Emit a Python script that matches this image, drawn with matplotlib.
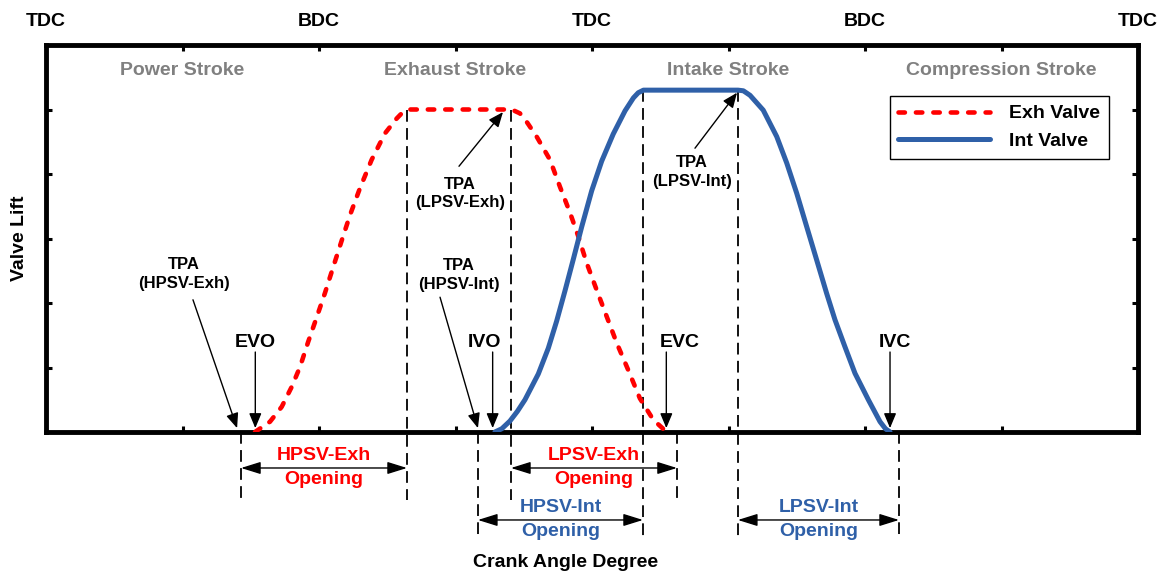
import matplotlib
matplotlib.use("Agg")
import matplotlib.pyplot as plt

# ---- valve lift profiles (crank angle in degrees, lift in arbitrary units) ----
exh_deg = [137.8, 147.7, 155.4, 162.0, 167.5, 172.9, 178.5, 184.0, 189.4, 195.0,
           200.4, 207.0, 214.7, 223.5, 231.2, 234.5, 238.9, 307.0, 312.5, 316.9,
           323.5, 332.3, 338.9, 345.5, 351.0, 356.5, 363.1, 369.7, 376.3, 383.9,
           391.6, 400.4, 409.2]
exh_lift = [0.0, 0.16, 0.39, 0.70, 1.01, 1.40, 1.78, 2.16, 2.56, 2.97,
            3.36, 3.78, 4.22, 4.63, 4.86, 4.94, 5.0, 5.0, 4.94, 4.81,
            4.58, 4.22, 3.80, 3.40, 3.03, 2.62, 2.20, 1.79, 1.38, 0.96,
            0.52, 0.19, 0.0]

int_deg = [296.0, 300.5, 305.9, 310.8, 315.8, 324.6, 331.2, 336.7, 342.2, 347.7,
           353.2, 359.8, 366.4, 374.0, 381.8, 387.3, 390.5, 393.9, 456.3, 459.8,
           464.2, 472.9, 481.8, 488.4, 495.0, 501.6, 508.1, 514.7, 520.2, 526.8,
           533.4, 542.2, 549.9, 553.5, 556.5]
int_lift = [0.0, 0.05, 0.17, 0.32, 0.50, 0.90, 1.30, 1.72, 2.19, 2.68,
            3.18, 3.74, 4.20, 4.62, 4.98, 5.18, 5.26, 5.30, 5.30, 5.29,
            5.22, 4.99, 4.58, 4.17, 3.70, 3.18, 2.67, 2.15, 1.74, 1.32,
            0.91, 0.50, 0.16, 0.05, 0.0]

# ---- valve events ----
event_names = ["EVO", "IVO", "EVC", "IVC"]
event_deg = [138.0, 294.5, 409.0, 556.5]

# ---- piston positions and strokes ----
dead_center_deg = [0, 180, 360, 540, 720]
dead_center_names = ["TDC", "BDC", "TDC", "BDC", "TDC"]
stroke_names = ["Power Stroke", "Exhaust Stroke", "Intake Stroke", "Compression Stroke"]
stroke_mid_deg = [90, 270, 450, 630]

# ---- switching windows ----
span_names = ["HPSV-Exh", "LPSV-Exh", "HPSV-Int", "LPSV-Int"]
span_start = [128.6, 306.6, 284.8, 456.2]
span_end = [238.0, 416.0, 393.6, 562.4]
span_row = [0, 0, 1, 1]

RED = "#FF0000"
BLUE = "#2F60A8"
GREY = "#808080"
FONT = "Liberation Sans"

plt.rcParams["font.family"] = [FONT, "DejaVu Sans"]
plt.rcParams["font.weight"] = "bold"

fig = plt.figure(figsize=(11.66, 5.73), dpi=100)
ax = fig.add_axes([46 / 1166, 1 - 432 / 573, 1092 / 1166, 387 / 573])
ax.set_xlim(0, 720)
ax.set_ylim(0, 6)

# frame and ticks
for sp in ax.spines.values():
    sp.set_linewidth(3.5)
    sp.set_color("black")
ax.set_xticks(range(0, 721, 90))
ax.set_yticks(range(0, 7))
ax.tick_params(axis="both", which="both", direction="in", length=4, width=2.2,
               top=True, right=True, labelbottom=False, labelleft=False)

# valve lift curves
exh_line, = ax.plot(exh_deg, exh_lift, color=RED, lw=3.3, zorder=4,
                    solid_capstyle="round", dash_capstyle="round",
                    solid_joinstyle="round")
exh_line.set_dashes((1.4, 2.4))
int_line, = ax.plot(int_deg, int_lift, color=BLUE, lw=3.6, zorder=5,
                    solid_capstyle="round", solid_joinstyle="round")

# vertical guide lines (lift level -> depth below the axis)
row_depth = [-1.054, -1.674]
guide_x = [128.6, 238.0, 284.8, 306.6, 393.6, 416.0, 456.2, 562.4]
guide_top = [0.0, 5.0, 0.0, 5.0, 5.3, 0.0, 5.3, 0.0]
guide_bottom = [row_depth[0], row_depth[0], row_depth[1], row_depth[0],
                row_depth[1], row_depth[0], row_depth[1], row_depth[1]]
for gx, gt, gb in zip(guide_x, guide_top, guide_bottom):
    ln, = ax.plot([gx, gx], [gt, gb], color="black", lw=1.3, zorder=2, clip_on=False)
    ln.set_dashes((6.5, 3.5))

# dead-centre labels above the frame
for d, name in zip(dead_center_deg, dead_center_names):
    ax.text(d, 6.36, name, ha="center", va="center", fontsize=14,
            fontweight="bold", clip_on=False)

# stroke names
for d, name in zip(stroke_mid_deg, stroke_names):
    ax.text(d, 5.61, name, ha="center", va="center", fontsize=14,
            fontweight="bold", color=GREY)

head = "-|>,head_length=0.6,head_width=0.25"
arrow_kw = dict(arrowstyle=head, color="black", lw=1.0, shrinkA=0, shrinkB=0,
                mutation_scale=15)

# valve event markers
event_text_dx = [0.0, -5.5, 9.0, 3.5]
for name, d, dx in zip(event_names, event_deg, event_text_dx):
    ax.annotate("", xy=(d, 0.06), xytext=(d, 1.24), arrowprops=arrow_kw,
                annotation_clip=False, zorder=6)
    ax.text(d + dx, 1.38, name, ha="center", va="center", fontsize=14,
            fontweight="bold")

# transition-point annotations
tpa_labels = ["TPA\n(HPSV-Exh)", "TPA\n(HPSV-Int)", "TPA\n(LPSV-Exh)", "TPA\n(LPSV-Int)"]
tpa_text_xy = [(91.0, 2.45), (272.3, 2.43), (273.0, 3.70), (425.9, 4.03)]
tpa_tail = [(96.9, 2.05), (259.8, 2.09), (272.3, 4.12), (427.9, 4.40)]
tpa_tip = [(126.0, 0.06), (284.8, 0.06), (301.3, 4.96), (455.6, 5.26)]
for lab, txy, tail, tip in zip(tpa_labels, tpa_text_xy, tpa_tail, tpa_tip):
    ax.text(txy[0], txy[1], lab, ha="center", va="center", fontsize=12,
            fontweight="bold", linespacing=1.3)
    ax.annotate("", xy=tip, xytext=tail, arrowprops=arrow_kw, zorder=6)

# switching windows below the axis
span_arrow_y = [-0.558, -1.364]
span_text_y = [(-0.357, -0.744), (-1.163, -1.55)]
span_color = [RED, RED, BLUE, BLUE]
dbl_kw = dict(arrowstyle="<|-|>,head_length=0.8,head_width=0.25", color="black",
              lw=1.0, shrinkA=0, shrinkB=0, mutation_scale=15)
for name, s, e, r, c in zip(span_names, span_start, span_end, span_row, span_color):
    ax.annotate("", xy=(s, span_arrow_y[r]), xytext=(e, span_arrow_y[r]),
                arrowprops=dbl_kw, annotation_clip=False)
    mid = (s + e) / 2
    ax.text(mid, span_text_y[r][0], name, ha="center", va="center", fontsize=14,
            fontweight="bold", color=c, clip_on=False)
    ax.text(mid, span_text_y[r][1], "Opening", ha="center", va="center",
            fontsize=14, fontweight="bold", color=c, clip_on=False)

# axis titles
ax.text(-0.024, 0.5, "Valve Lift", transform=ax.transAxes, rotation=90,
        ha="center", va="center", fontsize=14, fontweight="bold")
ax.text(0.476, -0.336, "Crank Angle Degree", transform=ax.transAxes,
        ha="center", va="center", fontsize=14, fontweight="bold")

# legend
leg = ax.legend([exh_line, int_line], ["Exh Valve", "Int Valve"],
                loc="upper right", bbox_to_anchor=(0.9734, 0.868),
                borderaxespad=0, fancybox=False, framealpha=1, edgecolor="black",
                prop=dict(family=FONT, weight="bold", size=14),
                handlelength=4.7, handletextpad=1.0, borderpad=0.45,
                labelspacing=0.5)
leg.get_frame().set_linewidth(1.0)

fig.savefig("out.png", dpi=100)
